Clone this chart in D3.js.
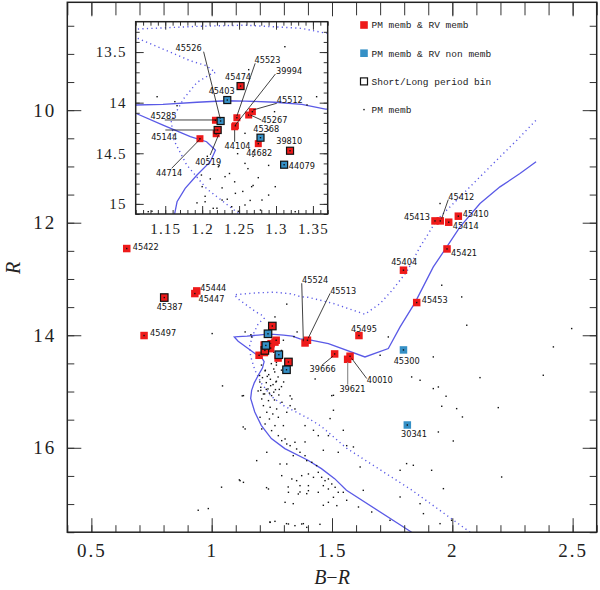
<!DOCTYPE html>
<meta charset="utf-8">
<style>
  body { margin: 0; background: #fff; }
  .lab { font-family: "DejaVu Sans", sans-serif; font-size: 8.2px; fill: #111; }
  .tick text { font-family: "Liberation Serif", serif; fill: #222; }
  .legend text { font-family: "Liberation Mono", monospace; font-size: 9.5px; fill: #222; }
  .title { font-family: "Liberation Serif", serif; font-style: italic; font-size: 20px; fill: #222; }
</style>
<body>
<svg width="600" height="590"></svg>
<script src="https://d3js.org/d3.v7.min.js"></script>
<script>
// Stars with RV measurements
const starId = ['45422','45444','45447','45387','45497','45474','45403','45526','45285','45144','40519','44714',
  '45523','44104','39994','45267','45512','45368','44682','39810','44079','45524','45513','39666','39621',
  '40010','45495','45300','30341','45453','45404','45421','45413','45412','45414','45410'];
const starBR = [0.647,0.938,0.930,0.803,0.719,1.252,1.234,1.225,1.218,1.221,1.219,1.197,
  1.247,1.244,1.245,1.263,1.268,1.279,1.276,1.319,1.311,1.388,1.398,1.511,1.565,
  1.575,1.612,1.797,1.813,1.852,1.797,1.978,1.928,1.950,1.985,2.025];
const starR = [12.459,13.212,13.259,13.330,14.005,13.836,13.974,14.181,14.174,14.270,14.307,14.356,
  14.149,14.238,14.228,14.122,14.089,14.346,14.405,14.475,14.613,14.137,14.089,14.332,14.427,
  14.373,14.005,14.261,15.595,13.419,12.844,12.466,11.968,11.968,11.991,11.884];
// m = PM & RV memb, n = RV non memb, b = short/long period binary
const starType = ['m','m','m','mb','m','mb','nb','nb','m','mb','m','m',
  'm','m','m','m','m','nb','m','mb','nb','m','m','m','m',
  'm','m','n','n','m','m','m','m','m','m','m'];

// PM members (small dots)
const pmBR = [1.248,1.223,1.237,1.262,1.276,1.211,1.244,1.269,1.227,1.255,1.204,1.234,1.265,1.290,1.193,1.220,1.249,1.279,
  1.208,1.236,1.261,1.292,1.215,1.243,1.270,1.229,1.254,1.201,1.240,1.277,1.222,1.263,1.208,1.298,1.249,1.333,1.326,1.312,
  1.346,1.277,1.291,1.305,1.312,1.326,1.346,1.353,1.367,1.339,1.388,1.395,1.416,1.436,1.443,1.402,1.374,1.423,1.457,1.471,
  1.485,1.499,1.464,1.513,1.485,1.526,1.506,1.547,1.291,1.333,1.353,1.367,1.319,1.360,1.402,1.402,1.443,1.243,1.263,1.319,
  1.346,1.374,1.395,1.132,1.139,1.118,1.132,1.229,1.187,1.388,1.443,1.499,1.430,1.526,1.485,1.561,1.520,1.485,1.284,1.312,
  1.236,1.305,1.207,1.269,1.290,1.200,
  1.312,1.163,1.355,1.342,1.258,1.290,1.258,1.269,1.222,1.231,1.245,1.267,1.227,1.240,1.258,1.204,1.215,1.281,1.299,1.199,
  1.326,1.127,1.139,1.166,1.298,1.263,
  1.002,1.045,1.131,1.115,1.041,0.944,0.986,1.228,1.242,1.311,1.381,1.450,1.464,1.339,1.367,1.395,1.318,
  2.060,2.039,2.496,2.420,1.921,1.734,1.700,1.831,1.866,1.921,1.942,2.115,2.378,1.974,1.956,2.018,2.042,2.191,1.942,2.004,
  1.810,1.838,1.783,1.914,1.963,2.205,1.866,1.880,1.997,1.949,1.506,1.506,1.423,1.388,1.492,1.741,1.783,1.617,1.589,1.547,
  1.464,1.630,1.665,1.610,1.561,1.949,1.956];
const pmR = [14.504,14.622,14.700,14.652,14.741,14.753,14.782,14.818,14.842,14.877,14.925,14.954,14.966,14.913,14.990,15.043,15.073,15.061,
  15.132,15.162,15.150,15.191,15.251,15.280,15.310,15.369,15.399,15.458,15.488,15.458,15.577,15.606,15.665,15.606,15.695,15.132,15.251,15.369,
  15.310,15.784,15.873,15.843,15.932,15.962,15.902,16.021,16.080,16.140,16.140,16.228,16.258,16.317,16.436,16.465,16.495,16.525,16.525,16.584,
  16.554,16.643,16.673,16.702,16.732,16.791,16.880,16.791,16.495,16.554,16.584,16.673,16.791,16.821,16.673,16.762,16.791,17.325,17.307,17.354,
  17.384,17.354,17.414,15.073,15.665,16.584,16.614,16.080,16.228,15.606,15.784,15.073,14.777,16.080,15.784,15.962,17.028,16.969,16.288,16.288,
  16.732,16.969,14.530,14.530,14.620,14.830,
  13.447,13.990,13.941,14.023,14.303,14.270,14.600,14.484,14.633,14.731,14.896,14.830,14.962,15.028,15.011,14.979,15.044,14.962,14.830,14.715,
  15.077,15.077,13.941,14.030,14.089,13.674,
  13.970,14.900,15.630,16.570,16.700,17.110,17.080,16.708,17.319,17.348,17.348,17.360,17.022,16.993,16.785,16.815,16.696,
  13.822,13.319,13.881,14.207,14.385,14.030,14.356,14.741,14.800,14.948,14.919,14.753,14.711,15.084,15.262,15.304,15.452,15.286,15.719,15.879,
  16.281,16.311,16.400,16.400,16.726,16.519,16.993,17.170,17.289,17.348,15.067,15.333,15.689,15.896,15.481,17.289,16.874,16.341,15.985,15.689,
  16.044,16.756,17.141,17.052,16.933,11.659,13.111];

// Isochrone (solid) and binary sequence (dotted)
const isoBR = [1.831,1.560,1.511,1.456,1.400,1.304,1.248,1.206,1.179,1.162,1.166,1.177,1.193,1.211,1.218,1.206,1.184,1.147,1.110,1.094,
  1.110,1.147,1.193,1.233,1.258,1.299,1.335,1.367,1.402,1.485,1.637,1.734,1.783,1.845,1.921,1.977,2.032,2.115,2.198,2.281,2.348];
const isoR = [17.50,16.756,16.548,16.370,16.222,16.014,15.837,15.600,15.364,15.125,14.979,14.846,14.715,14.583,14.470,14.386,14.336,14.221,14.105,14.030,
  14.023,14.016,13.996,13.981,13.984,13.996,14.016,14.063,14.076,14.148,14.386,14.236,13.852,13.420,12.785,12.430,12.074,11.659,11.363,11.126,10.918];
const binBR = [2.074,1.831,1.560,1.456,1.400,1.304,1.248,1.206,1.179,1.162,1.158,1.175,1.193,1.211,1.218,1.206,1.184,1.147,1.110,1.094,
  1.110,1.193,1.258,1.335,1.367,1.402,1.506,1.637,1.700,1.750,1.810,1.866,1.935,2.018,2.115,2.198,2.268,2.348];
const binR = [17.50,16.750,16.006,15.620,15.472,15.264,15.087,14.850,14.614,14.375,14.180,13.960,13.800,13.720,13.701,13.636,13.586,13.471,13.355,13.280,
  13.273,13.246,13.234,13.266,13.313,13.326,13.436,13.627,13.436,13.200,12.874,12.430,11.955,11.600,11.185,10.830,10.533,10.178];

const legendText = ['PM memb & RV memb', 'PM memb & RV non memb', 'Short/Long period bin', 'PM memb'];

const stars = starId.map((id, i) => ({ id, br: starBR[i], r: starR[i], t: starType[i] }))
  .sort((a, b) => order(a.t) - order(b.t));
function order(t) { return { m: 0, mb: 1, n: 2, nb: 3 }[t]; }
const pm = pmBR.map((b, i) => [b, pmR[i]]);
const iso = isoBR.map((b, i) => [b, isoR[i]]);
const bin = binBR.map((b, i) => [b, binR[i]]);

const RED = '#ee1a1a', BLUE = '#3590c6', LINE = '#5a5ae6';

// label placement: [dx, dy, anchor, leader]
const mainLab = {
  '45422': [6, -1, 'start'], '45444': [3.5, -2.5, 'start'], '45447': [3.6, 5, 'start'],
  '45387': [5.4, 9.4, 'middle'], '45497': [6, -2, 'start'],
  '45524': [-3, -62.7, 'start', [-3.3, -59.7, -1.7, -1.7]],
  '45513': [22.7, -49, 'start', [22.7, -47, 0.7, -2]],
  '45495': [5, -6.5, 'middle'],
  '39666': [-12, 15.6, 'middle', [-12.7, 11.3, -1.7, 2.3]],
  '39621': [4.8, 30, 'middle', [0, 3, 0, 25.3]],
  '40010': [16.7, 24, 'start', [1.7, 2.3, 16.7, 22.3]],
  '45300': [3.2, 11.3, 'middle'], '30341': [6.7, 8.6, 'middle'],
  '45453': [5, -2.3, 'start'], '45404': [0.7, -7.7, 'middle'], '45421': [4, 4.6, 'start'],
  '45413': [-5, -3.4, 'end'],
  '45412': [8, -23.4, 'start', [8, -21.4, 1.4, -2.4]],
  '45410': [4.4, -2, 'start'], '45414': [4, 3.7, 'start']
};
const insetLab = {
  '45526': [-32, -72.7, 'middle', [-17, -69.3, -0.3, -2]],
  '45523': [17.6, -57.7, 'start', [18.3, -54.4, 0, -1.7]],
  '45474': [-2.5, -8.7, 'middle'],
  '39994': [40.7, -55, 'start', [40, -51.7, 0, -0.7]],
  '45403': [-5.6, -9, 'middle'],
  '45512': [24.4, -11.7, 'start', [24.4, -8.4, 0.7, -1.7]],
  '45285': [-52, -4.6, 'middle', [-50.7, -0.3, 1, -0.3]],
  '45267': [12.7, 5, 'start', [12.7, 5, 1.7, 0]],
  '45144': [-53.5, 7.3, 'middle', [-52.3, 0, -0.6, 0]],
  '44104': [2.9, 19.3, 'middle', [0, 3.3, 0, 15]],
  '45368': [5.7, -8.7, 'middle'], '44682': [0.9, 9, 'middle'], '39810': [-0.8, -10, 'middle'],
  '44079': [4.7, 1, 'start'],
  '40519': [-8, 28, 'middle', [-6, 21.3, 2.3, 1.3]],
  '44714': [-30.8, 34.6, 'middle', [-28.3, 29.6, 0, 0.6]]
};

const svg = d3.select('svg');
const M = { l: 67.3, t: 2.3, r: 596.7, b: 532.2 };
const I = { l: 135.7, t: 21.7, r: 327.7, b: 214 };
const x = d3.scaleLinear().domain([0.4, 2.6]).range([M.l, M.r]);
const y = d3.scaleLinear().domain([8.083, 17.5]).range([M.t, M.b]);
const xi = d3.scaleLinear().domain([1.11, 1.37]).range([I.l, I.r]);
const yi = d3.scaleLinear().domain([13.2, 15.1]).range([I.t, I.b]);

const defs = svg.append('defs');
defs.append('clipPath').attr('id', 'cm').append('rect')
  .attr('x', M.l).attr('y', M.t).attr('width', M.r - M.l).attr('height', M.b - M.t);
defs.append('clipPath').attr('id', 'ci').append('rect')
  .attr('x', I.l).attr('y', I.t).attr('width', I.r - I.l).attr('height', I.b - I.t);

function panel(g, xs, ys, size, labs) {
  const line = d3.line().x(d => xs(d[0])).y(d => ys(d[1]));
  const body = g.append('g').attr('clip-path', g.attr('data-clip'));
  body.append('path').datum(bin).attr('d', line).attr('fill', 'none')
    .attr('stroke', LINE).attr('stroke-width', 1.4).attr('stroke-dasharray', '1.2 3.3');
  body.append('path').datum(iso).attr('d', line).attr('fill', 'none')
    .attr('stroke', LINE).attr('stroke-width', 1.3);
  body.selectAll('rect.pm').data(pm).join('rect').attr('class', 'pm')
    .attr('x', d => xs(d[0]) - 0.7).attr('y', d => ys(d[1]) - 0.7)
    .attr('width', 1.4).attr('height', 1.4).attr('fill', '#111');

  const s = body.selectAll('g.star').data(stars).join('g').attr('class', 'star')
    .attr('transform', d => `translate(${xs(d.br)},${ys(d.r)})`);
  s.append('rect').attr('x', -size / 2).attr('y', -size / 2).attr('width', size).attr('height', size)
    .attr('fill', d => d.t[0] === 'm' ? RED : BLUE)
    .attr('stroke', d => d.t.length > 1 ? '#111' : 'none').attr('stroke-width', 1.2);
  s.append('rect').attr('x', -0.7).attr('y', -0.7).attr('width', 1.4).attr('height', 1.4).attr('fill', '#111');

  // labels and leader lines
  const lab = g.append('g');
  stars.filter(d => labs[d.id]).forEach(d => {
    const [dx, dy, anchor, ld] = labs[d.id];
    const px = xs(d.br), py = ys(d.r);
    if (ld) {
      lab.append('line').attr('x1', px + ld[0]).attr('y1', py + ld[1])
        .attr('x2', px + ld[2]).attr('y2', py + ld[3])
        .attr('stroke', d.id === '39621' ? '#999' : '#111')
        .attr('stroke-width', d.id === '39621' ? 1.3 : 0.8);
    }
    lab.append('text').attr('class', 'lab').attr('x', px + dx).attr('y', py + dy)
      .attr('dy', '0.36em').attr('text-anchor', anchor).text(d.id);
  });
}

function axes(g, xs, ys, box, o) {
  const add = (axis, tr, vals, size, fmt) => {
    const a = g.append('g').attr('transform', tr).attr('color', '#333')
      .call(axis.tickValues(vals).tickSize(-size).tickPadding(o.pad).tickFormat(fmt || ''));
    a.select('.domain').remove();
    a.selectAll('line').attr('stroke-width', 1);
    a.selectAll('text').attr('font-size', o.fs).attr('letter-spacing', o.ls).attr('font-family', null);
  };
  const fmt = d => String(d);
  add(d3.axisBottom(xs), `translate(0,${box.b})`, o.xMinor, o.minor);
  add(d3.axisBottom(xs), `translate(0,${box.b})`, o.xMajor, o.major, fmt);
  add(d3.axisTop(xs), `translate(0,${box.t})`, o.xMinor, o.topMinor);
  add(d3.axisTop(xs), `translate(0,${box.t})`, o.xMajor, o.major);
  add(d3.axisLeft(ys), `translate(${box.l},0)`, o.yMinor, o.minor);
  add(d3.axisLeft(ys), `translate(${box.l},0)`, o.yMajor, o.major, fmt);
  add(d3.axisRight(ys), `translate(${box.r},0)`, o.yMinor, o.minor);
  add(d3.axisRight(ys), `translate(${box.r},0)`, o.yMajor, o.major);
  g.append('rect').attr('x', box.l).attr('y', box.t).attr('width', box.r - box.l).attr('height', box.b - box.t)
    .attr('fill', 'none').attr('stroke', '#222').attr('stroke-width', 1.5);
}

// main panel
const gm = svg.append('g').attr('data-clip', 'url(#cm)');
panel(gm, x, y, 7.5, mainLab);
axes(svg.append('g'), x, y, M, {
  xMinor: d3.range(4, 27).map(i => i / 10), xMajor: [0.5, 1, 1.5, 2, 2.5],
  yMinor: d3.range(17, 36).map(i => i / 2), yMajor: [10, 12, 14, 16],
  minor: 7, major: 14, topMinor: 13, pad: 11, fs: 19, ls: 2
});

// inset
svg.append('rect').attr('x', I.l).attr('y', I.t).attr('width', I.r - I.l).attr('height', I.b - I.t).attr('fill', '#fff');
const gi = svg.append('g').attr('data-clip', 'url(#ci)');
panel(gi, xi, yi, 7, insetLab);
axes(svg.append('g'), xi, yi, I, {
  xMinor: d3.range(111, 138).map(i => i / 100), xMajor: [1.15, 1.2, 1.25, 1.3, 1.35],
  yMinor: d3.range(133, 152).map(i => i / 10), yMajor: [13.5, 14, 14.5, 15],
  minor: 4, major: 8, topMinor: 4, pad: 9, fs: 15, ls: 1.2
});

// axis titles
svg.append('text').attr('class', 'title').attr('transform', 'translate(20,268) rotate(-90)')
  .attr('text-anchor', 'middle').text('R');
const bt = svg.append('text').attr('class', 'title').attr('x', 332).attr('y', 584).attr('text-anchor', 'middle');
bt.append('tspan').text('B');
bt.append('tspan').attr('font-style', 'normal').text('\u2212');
bt.append('tspan').text('R');

// legend
const lg = svg.append('g').attr('class', 'legend').attr('transform', 'translate(364,25)');
legendText.forEach((t, i) => {
  const row = lg.append('g').attr('transform', `translate(0,${i * 28.2})`);
  if (i < 2) row.append('rect').attr('x', -3.8).attr('y', -3.8).attr('width', 7.6).attr('height', 7.6).attr('fill', i ? BLUE : RED);
  else if (i === 2) row.append('rect').attr('x', -3.5).attr('y', -3.5).attr('width', 7).attr('height', 7)
    .attr('fill', 'none').attr('stroke', '#111').attr('stroke-width', 1.2);
  else row.append('rect').attr('x', -0.7).attr('y', -0.7).attr('width', 1.4).attr('height', 1.4).attr('fill', '#111');
  row.append('text').attr('x', 7.5).attr('dy', '0.35em').text(t);
});
</script>
</body>
